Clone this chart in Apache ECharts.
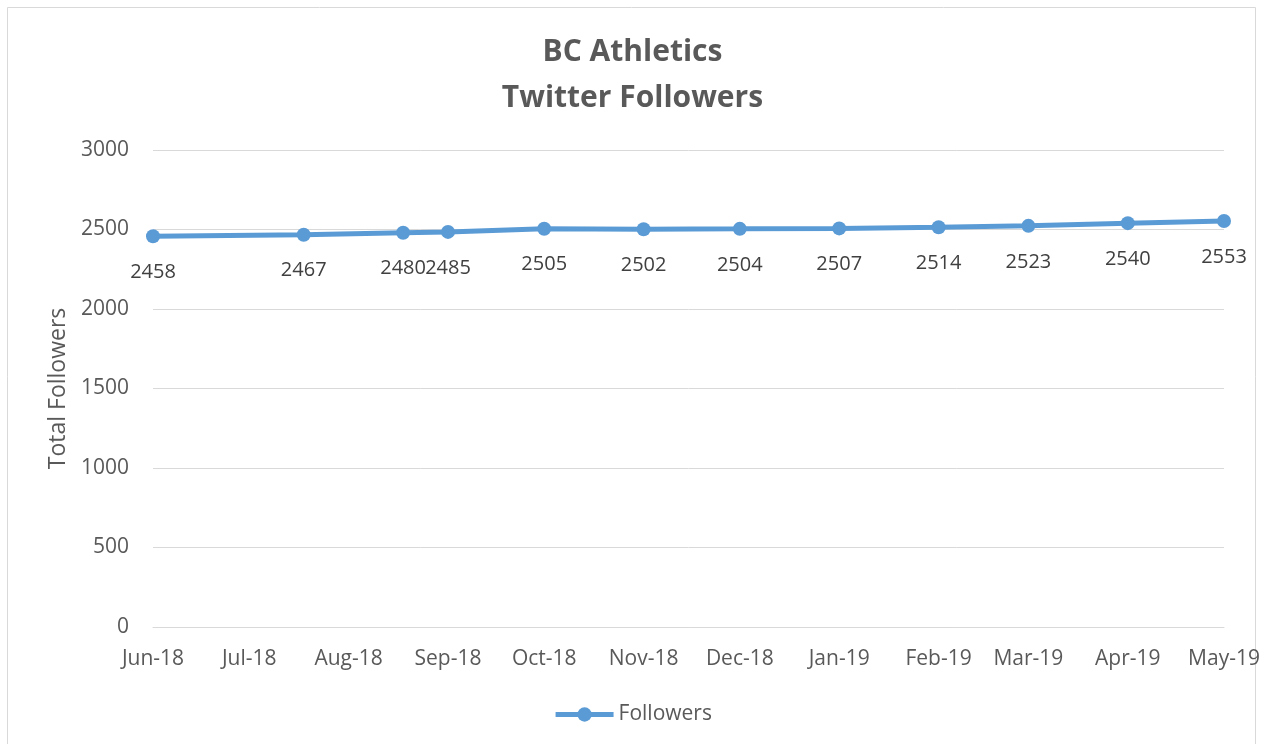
<!DOCTYPE html>
<html>
<head>
<meta charset="utf-8">
<script src="https://cdn.jsdelivr.net/npm/echarts@6/dist/echarts.min.js"></script>
<style>html,body{margin:0;padding:0;background:#fff;}#c{width:1265px;height:744px;}</style>
</head>
<body>
<div id="c"></div>
<script>
// dates as [year, month(1-12), day]
var dates = [[2018,6,1],[2018,7,18],[2018,8,18],[2018,9,1],[2018,10,1],[2018,11,1],[2018,12,1],[2019,1,1],[2019,2,1],[2019,3,1],[2019,4,1],[2019,5,1]];
var followers = [2458,2467,2480,2485,2505,2502,2504,2507,2514,2523,2540,2553];
var monthNames = ['Jan','Feb','Mar','Apr','May','Jun','Jul','Aug','Sep','Oct','Nov','Dec'];
var yTicks = [0,500,1000,1500,2000,2500,3000];

var seriesData = dates.map(function(d,i){ return [new Date(d[0], d[1]-1, d[2]).getTime(), followers[i]]; });

var chart = echarts.init(document.getElementById('c'));
chart.setOption({
  animation:false,
  backgroundColor:'#fff',
  textStyle:{fontFamily:'Open Sans'},
  title:{
    text:'BC Athletics\nTwitter Followers',
    left:'center', top:24,
    textStyle:{fontSize:30, fontWeight:'bold', color:'#595959', lineHeight:46, fontFamily:'Open Sans'}
  },
  graphic:[{type:'rect', shape:{x:7.5,y:7.5,width:1248,height:760}, style:{fill:'none', stroke:'#d9d9d9', lineWidth:1}, silent:true}],
  grid:{left:153, right:41, top:150, bottom:117},
  legend:{bottom:14, left:'center', itemWidth:58, itemHeight:18, itemGap:4, textStyle:{fontSize:21, color:'#595959'},
    lineStyle:{width:5}, data:['Followers']},
  xAxis:{
    type:'time',
    min:new Date(2018,5,1).getTime(),
    max:new Date(2019,4,1).getTime(),
    minInterval:28*86400000, maxInterval:31*86400000,
    splitLine:{show:false},
    axisLine:{show:true, lineStyle:{color:'#d9d9d9'}},
    axisTick:{show:false},
    axisLabel:{fontSize:21, color:'#595959', margin:22, showMinLabel:true, showMaxLabel:true,
      formatter:function(v){ var d=new Date(v); return monthNames[d.getMonth()]+'-'+String(d.getFullYear()).slice(2); }}
  },
  yAxis:{
    type:'value', min:0, max:3000, interval:500,
    name:'Total Followers', nameLocation:'middle', nameGap:80,
    nameTextStyle:{fontSize:23, color:'#595959'},
    axisLine:{show:false}, axisTick:{show:false},
    axisLabel:{fontSize:21, color:'#595959', margin:24, formatter:function(v){return String(v);}},
    splitLine:{lineStyle:{color:'#d9d9d9', width:1}}
  },
  series:[{
    name:'Followers', type:'line', data:seriesData,
    symbol:'circle', symbolSize:14,
    lineStyle:{color:'#5b9bd5', width:5},
    itemStyle:{color:'#5b9bd5'},
    label:{show:true, position:'bottom', distance:19, fontSize:20, color:'#404040'}
  }]
});
</script>
</body>
</html>
